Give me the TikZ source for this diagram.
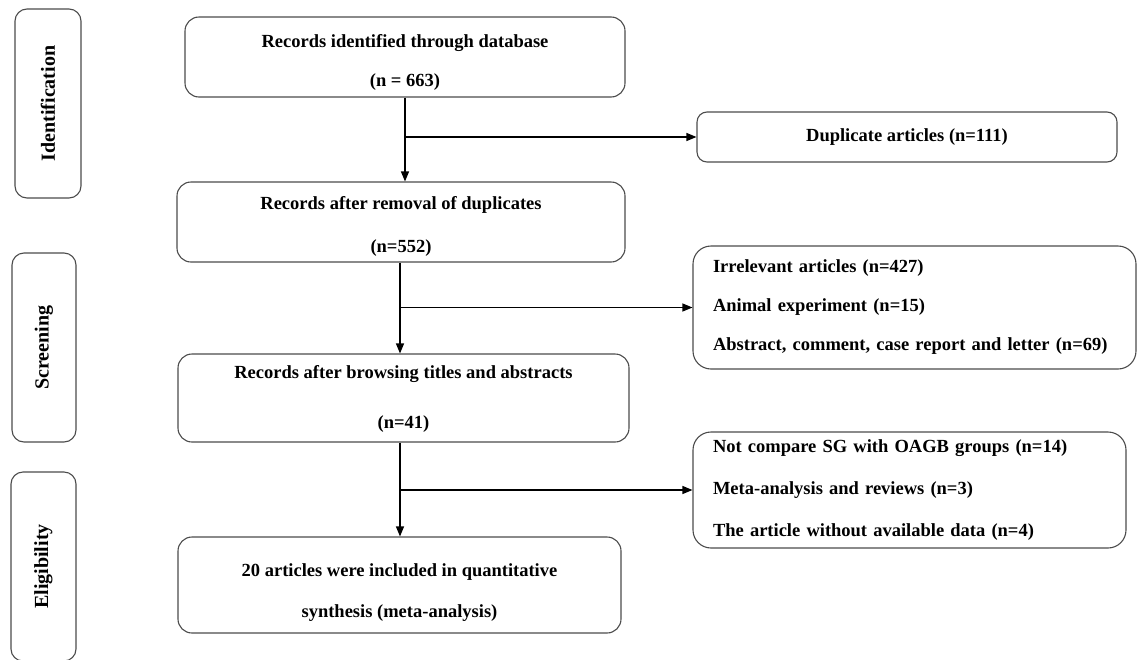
\documentclass[tikz,border=0pt]{standalone}
\usepackage{fontspec}
\setmainfont{Liberation Serif}
\usetikzlibrary{arrows.meta}
\begin{document}
\begin{tikzpicture}[x=1pt,y=-1pt,
  box/.style={draw=black!70, line width=1.1pt, rounded corners=14pt, inner sep=0pt, align=center, font=\bfseries\fontsize{18.5}{40}\selectfont},
  sidebox/.style={draw=black!70, line width=1.1pt, rounded corners=12pt, inner sep=0pt, rotate=90, font=\bfseries\fontsize{20}{22}\selectfont},
  listbox/.style={draw=black!70, line width=1.1pt, rounded corners=18pt, inner ysep=0pt, inner xsep=20pt, align=left, font=\bfseries\fontsize{18.5}{39}\selectfont},
  arr/.style={line width=1.1pt, -{Triangle[length=10pt,width=8pt]}}
]
\clip (0,0) rectangle (1137,659);
\fill[white] (0,0) rectangle (1137,659);

% side labels
\node[sidebox, minimum width=189, minimum height=66] (sid) at (48,103.5) {Identification};
\node[sidebox, minimum width=189, minimum height=64] (sscr) at (44,347.5) {Screening};
\node[sidebox, minimum width=189, minimum height=65] (seli) at (43.5,566.5) {Eligibility};

% main boxes
\node[box, minimum width=440, minimum height=80, font=\bfseries\fontsize{18.5}{39}\selectfont] (b1) at (405,57) {\rule{0pt}{23pt}Records identified through database\\(n = 663)};
\node[box, minimum width=448, minimum height=80, font=\bfseries\fontsize{18.5}{43}\selectfont] (b2) at (401,222) {\rule{0pt}{21pt}Records after removal of duplicates\\(n=552)};
\node[box, minimum width=451, minimum height=88, font=\bfseries\fontsize{18.5}{50}\selectfont] (b3) at (403.5,398) {\rule{0pt}{15pt}Records after browsing titles and abstracts\\(n=41)};
\node[box, minimum width=443, minimum height=96, font=\bfseries\fontsize{18.5}{41}\selectfont] (b4) at (399.5,585) {\rule{0pt}{27pt}20 articles were included in quantitative\\synthesis (meta-analysis)};

% right boxes
\node[box, minimum width=420, minimum height=50, rounded corners=10pt] (r1) at (907,137) {Duplicate articles (n=111)};
\node[listbox, text width=403, minimum height=123] (r2) at (914.5,307.5) {Irrelevant articles (n=427)\\Animal experiment (n=15)\\Abstract, comment, case report and letter (n=69)};
\node[listbox, text width=393, minimum height=116, font=\bfseries\fontsize{18.5}{42}\selectfont] (r3) at (909.5,490) {Not compare SG with OAGB groups (n=14)\\Meta-analysis and reviews (n=3)\\The article without available data (n=4)};

% connectors
\draw[arr] (b1.south) -- (b1.south |- b2.north);
\draw[arr] (b1.south |- r1.west) -- (r1.west);
\draw[arr] ([xshift=-1pt]b2.south) -- ([xshift=-1pt]b2.south |- b3.north);
\draw[arr] ([xshift=-1pt]b2.south |- r2.west) -- (r2.west);
\draw[arr] ([xshift=-3.5pt]b3.south) -- ([xshift=-3.5pt]b3.south |- b4.north);
\draw[arr] ([xshift=-3.5pt]b3.south |- r3.west) -- (r3.west);
\end{tikzpicture}
\end{document}
